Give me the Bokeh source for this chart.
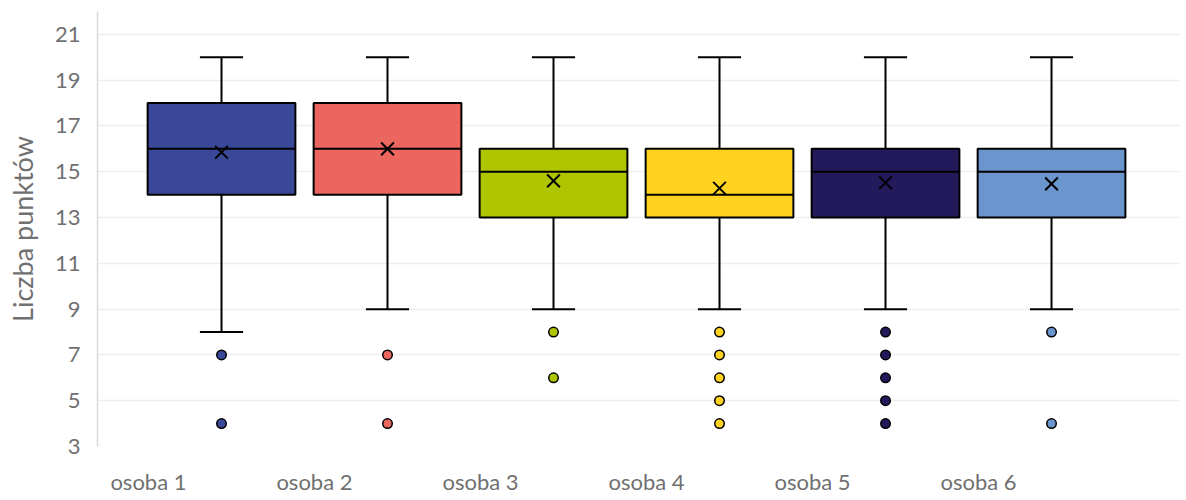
from bokeh.plotting import figure
from bokeh.models import FixedTicker, ColumnDataSource, Range1d
from bokeh.embed import file_html
from bokeh.resources import INLINE

categories = ["osoba 1", "osoba 2", "osoba 3", "osoba 4", "osoba 5", "osoba 6"]
lower = [8, 9, 9, 9, 9, 9]
q1 = [14, 14, 13, 13, 13, 13]
median = [16, 16, 15, 14, 15, 15]
q3 = [18, 18, 16, 16, 16, 16]
upper = [20, 20, 20, 20, 20, 20]
means = [15.85, 16.0, 14.6, 14.28, 14.52, 14.47]
outliers = [
    [7, 4],
    [7, 4],
    [8, 6],
    [8, 7, 6, 5, 4],
    [8, 7, 6, 5, 4],
    [8, 4],
]
colors = ["#3A4899", "#EB665F", "#AEC500", "#FFD320", "#221A5B", "#6A95CD"]
y_ticks = [3, 5, 7, 9, 11, 13, 15, 17, 19, 21]

FONT = "Lato"
GREY = "#707070"

xs = list(range(1, len(categories) + 1))
box_w = 0.89
cap_w = 0.26

p = figure(width=1180, height=499, output_backend="svg", toolbar_location=None,
           x_range=Range1d(0.253, 6.777), y_range=Range1d(3, 22))
p.min_border_left = 97
p.min_border_right = 0
p.min_border_top = 11
p.min_border_bottom = 53
p.outline_line_color = None
p.background_fill_color = "white"
p.border_fill_color = "white"

src = ColumnDataSource(dict(x=xs, lower=lower, q1=q1, median=median, q3=q3,
                            upper=upper, means=means, color=colors))

# whiskers
p.segment(x0="x", y0="q3", x1="x", y1="upper", source=src, line_color="black", line_width=2)
p.segment(x0="x", y0="lower", x1="x", y1="q1", source=src, line_color="black", line_width=2)
src.data["cl"] = [x - cap_w / 2 for x in xs]
src.data["cr"] = [x + cap_w / 2 for x in xs]
p.segment(x0="cl", y0="upper", x1="cr", y1="upper", source=src, line_color="black", line_width=2)
p.segment(x0="cl", y0="lower", x1="cr", y1="lower", source=src, line_color="black", line_width=2)

# boxes
p.vbar(x="x", width=box_w, bottom="q1", top="q3", source=src, fill_color="color",
       line_color="black", line_width=2)
src.data["ml"] = [x - box_w / 2 for x in xs]
src.data["mr"] = [x + box_w / 2 for x in xs]
p.segment(x0="ml", y0="median", x1="mr", y1="median", source=src, line_color="black", line_width=2)

# means
p.scatter(x="x", y="means", source=src, marker="x", size=18, line_color="black", line_width=2)

# outliers
ox, oy, oc = [], [], []
for i, outs in enumerate(outliers):
    for v in outs:
        ox.append(xs[i])
        oy.append(v)
        oc.append(colors[i])
p.scatter(x=ox, y=oy, marker="circle", size=9.5, fill_color=oc, line_color="black", line_width=1.5)

# axes
p.xgrid.grid_line_color = None
p.ygrid.grid_line_color = "#EEEEEE"
p.ygrid.grid_line_width = 1.5
p.yaxis.ticker = FixedTicker(ticks=y_ticks)
p.xaxis.ticker = FixedTicker(ticks=[x - 0.44 for x in xs])
p.xaxis.major_label_overrides = {x - 0.44: c for x, c in zip(xs, categories)}

for ax in (p.xaxis[0], p.yaxis[0]):
    ax.major_tick_line_color = None
    ax.minor_tick_line_color = None
    ax.major_tick_out = 0
    ax.major_tick_in = 0
    ax.minor_tick_out = 0
    ax.minor_tick_in = 0
    ax.major_label_text_font = FONT
    ax.major_label_text_color = GREY
    ax.axis_label_text_font = FONT
    ax.axis_label_text_color = GREY
    ax.axis_label_text_font_style = "normal"

p.xaxis.axis_line_color = None
p.xaxis.major_label_text_font_size = "22px"
p.xaxis.major_label_standoff = 21
p.yaxis.axis_line_color = "#D9D9D9"
p.yaxis.axis_line_width = 1.5
p.yaxis.major_label_text_font_size = "22px"
p.yaxis.major_label_standoff = 17
p.yaxis.axis_label = "Liczba punktów"
p.yaxis.axis_label_text_font_size = "27px"
p.yaxis.axis_label_standoff = 13

open("out.html", "w").write(file_html(p, INLINE))
